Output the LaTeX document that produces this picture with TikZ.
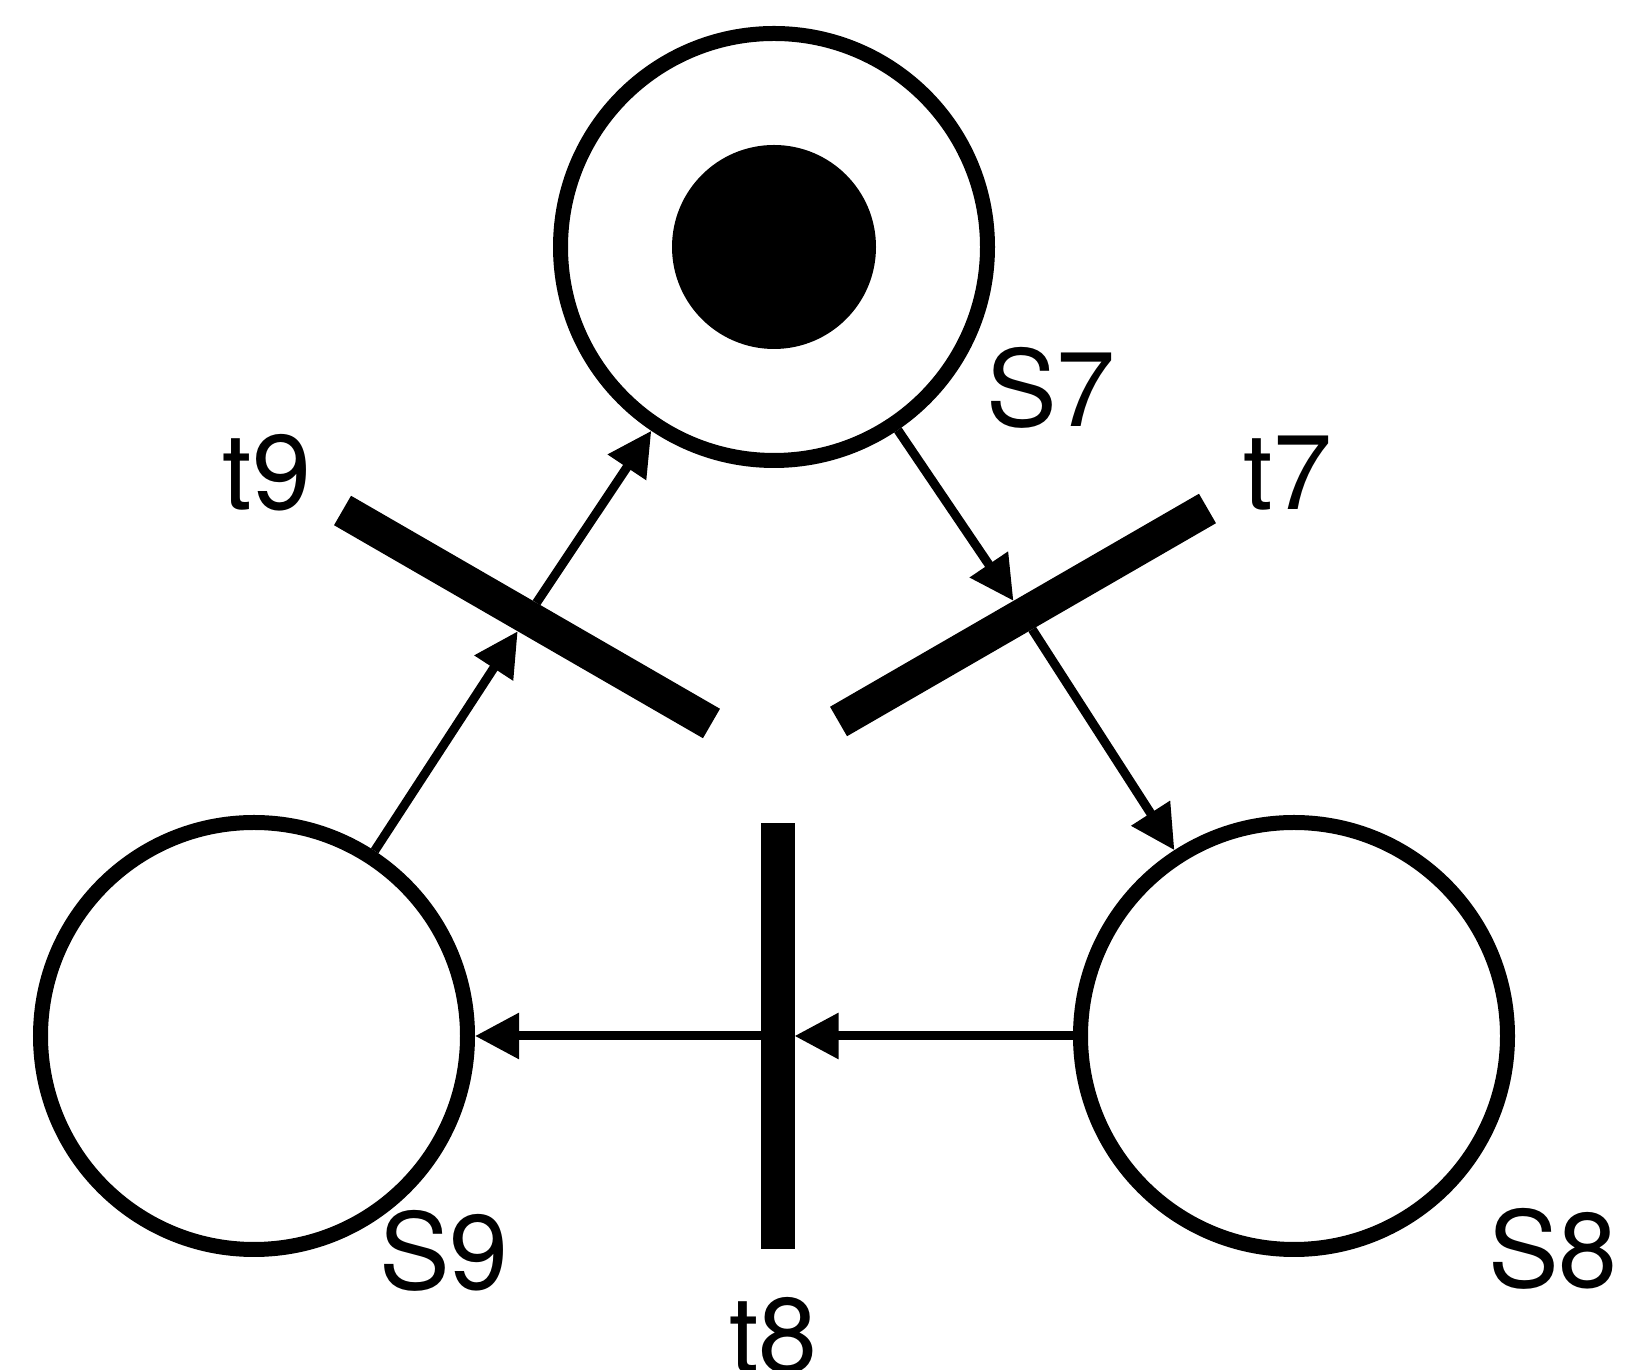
\documentclass[tikz,border=0pt]{standalone}
\usepackage{fontspec}
\setmainfont{TeX Gyre Heros}
\usetikzlibrary{arrows.meta}
\begin{document}
\begin{tikzpicture}[x=1pt,y=1pt,
  place/.style={circle,draw,line width=15pt,minimum size=427pt,inner sep=0pt},
  trans/.style={rectangle,fill=black,inner sep=0pt,outer sep=0pt,minimum width=426pt,minimum height=34pt},
  token/.style={circle,fill=black,inner sep=0pt,minimum size=204pt},
  arc/.style={line width=9pt,-{Triangle[length=44pt,width=44pt]}},
  lbl/.style={font=\fontsize{106}{120}\selectfont,inner sep=0pt,anchor=base}]
\useasboundingbox (0,0) rectangle (1625,1370);
% places
\node[place] (S7) at (774,1123) {};
\node[place] (S9) at (254,334) {};
\node[place] (S8) at (1294,334) {};
\node[token] (tok) at (S7.center) {};
% transitions
\node[trans,rotate=-30] (t9) at (527,753) {};
\node[trans,rotate=30] (t7) at (1023,755) {};
\node[trans,rotate=90] (t8) at (777.5,334) {};
% arcs
\draw[arc] (S9) -- (t9);
\draw[arc] (t9) -- (S7);
\draw[arc] (S7) -- (t7);
\draw[arc] (t7) -- (S8);
\draw[arc] (S8) -- (t8);
\draw[arc] (t8) -- (S9);
% labels
\node[lbl] (lS7) at (1051,943) {S7};
\node[lbl] (lt9) at (267,860) {t9};
\node[lbl] (lt7) at (1288,860) {t7};
\node[lbl] (lS9) at (444,80) {S9};
\node[lbl] (lS8) at (1553,82) {S8};
\node[lbl] (lt8) at (773.5,-3) {t8};
\end{tikzpicture}
\end{document}
